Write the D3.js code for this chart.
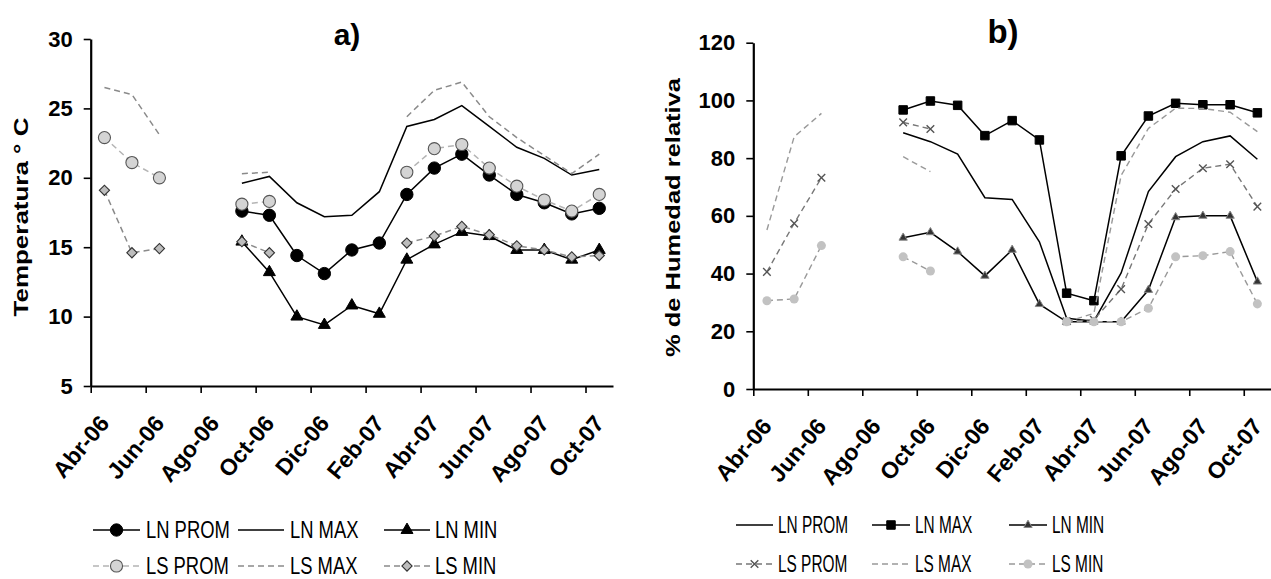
<!DOCTYPE html>
<html><head><meta charset="utf-8">
<script src="https://cdn.jsdelivr.net/npm/d3@7"></script>
<style>
body{margin:0;background:#fff}
svg{display:block}
text{font-family:"Liberation Sans",Arial,sans-serif}
</style>
</head><body>
<svg id="c" width="1271" height="579"></svg>
<script>
// ---------- DATA ----------
const months = ["Abr-06","May-06","Jun-06","Jul-06","Ago-06","Sep-06","Oct-06","Nov-06","Dic-06","Ene-07","Feb-07","Mar-07","Abr-07","May-07","Jun-07","Jul-07","Ago-07","Sep-07","Oct-07"];
const xTickLabels = ["Abr-06","Jun-06","Ago-06","Oct-06","Dic-06","Feb-07","Abr-07","Jun-07","Ago-07","Oct-07"];
const tempTicks = [5,10,15,20,25,30];
const humTicks = [0,20,40,60,80,100,120];
const seriesNames = ["LN PROM","LN MAX","LN MIN","LS PROM","LS MAX","LS MIN"];

// a) Temperature (°C)
const lnPromT = [null,null,null,null,null,17.6,17.3,14.4,13.1,14.8,15.3,18.8,20.7,21.7,20.2,18.8,18.2,17.4,17.8];
const lnMaxT  = [null,null,null,null,null,19.6,20.1,18.2,17.2,17.3,19.0,23.7,24.2,25.2,23.7,22.2,21.4,20.2,20.6];
const lnMinT  = [null,null,null,null,null,15.4,13.2,10.0,9.4,10.8,10.2,14.1,15.2,16.1,15.8,14.8,14.8,14.1,14.8];
const lsPromT = [22.9,21.1,20.0,null,null,18.1,18.3,null,null,null,null,20.4,22.1,22.4,20.7,19.4,18.4,17.6,18.8];
const lsMaxT  = [26.5,26.0,23.1,null,null,20.3,20.4,null,null,null,null,24.4,26.3,26.9,24.4,22.9,21.6,20.3,21.7];
const lsMinT  = [19.1,14.6,14.9,null,null,15.4,14.6,null,null,null,null,15.3,15.8,16.5,15.9,15.1,14.8,14.3,14.4];

// b) Relative humidity (%)
const lnPromH = [null,null,null,null,null,88.8,85.7,81.4,66.3,65.7,51.0,24.5,23.5,40.2,68.4,80.5,85.7,87.7,79.6];
const lnMaxH  = [null,null,null,null,null,96.7,99.8,98.3,87.8,93.0,86.3,33.2,30.6,80.8,94.6,99.0,98.5,98.5,95.7];
const lnMinH  = [null,null,null,null,null,52.4,54.3,47.6,39.2,48.2,29.4,23.3,23.3,23.3,34.3,59.5,60.0,60.0,37.2];
const lsPromH = [40.6,57.4,73.2,null,null,92.4,90.1,null,null,null,null,23.5,24.0,34.6,57.2,69.3,76.5,77.9,63.2];
const lsMaxH  = [55.1,87.4,95.5,null,null,80.5,75.3,null,null,null,null,23.3,26.2,74.0,90.3,97.3,97.2,95.9,89.2];
const lsMinH  = [30.6,31.2,49.7,null,null,45.8,40.9,null,null,null,null,23.3,23.3,23.3,28.0,45.8,46.2,47.6,29.5];

// ---------- DRAW ----------
const svg = d3.select("#c");
const FONT = '"Liberation Sans",Arial,sans-serif';

function markerPath(m) {
  if (!m) return null;
  if (m.type === "x") {
    const s = m.r;
    return `M${-s},${-s}L${s},${s}M${-s},${s}L${s},${-s}`;
  }
  const map = {circle:d3.symbolCircle, square:d3.symbolSquare, triangle:d3.symbolTriangle, diamond:d3.symbolSquare};
  return d3.symbol().type(map[m.type]).size(m.size)();
}
function drawMarker(g, cx, cy, m) {
  if (!m) return;
  g.append("path").attr("d", markerPath(m))
    .attr("transform", `translate(${cx},${cy})` + (m.type === "diamond" ? " rotate(45)" : ""))
    .attr("fill", m.type === "x" ? "none" : m.fill)
    .attr("stroke", m.stroke || "none")
    .attr("stroke-width", m.sw || 1);
}

function chart(o) {
  const x = d3.scaleBand().domain(months).range([o.x0, o.x1]).padding(0);
  const xl = d3.scaleLinear().domain([0, months.length]).range([o.x0, o.x1]);
  const bw = x.bandwidth();
  const y = d3.scaleLinear().domain(o.yDomain).range([o.yB, o.yT]);
  const g = svg.append("g");

  // Y axis
  const ya = g.append("g").attr("transform", `translate(${o.x0},0)`)
    .call(d3.axisLeft(y).tickValues(o.yTicks).tickSize(7).tickPadding(11).tickSizeOuter(0));
  ya.attr("font-family", FONT);
  ya.select(".domain").attr("stroke", "#000").attr("stroke-width", 2.2);
  ya.selectAll(".tick line").attr("stroke", "#000").attr("stroke-width", 1.6);
  ya.selectAll(".tick text").attr("font-size", 22).attr("font-weight", "bold").attr("fill", "#000");

  // X axis (ticks at every second month boundary)
  const xa = g.append("g").attr("transform", `translate(0,${o.yB})`)
    .call(d3.axisBottom(xl).tickValues(d3.range(0, months.length, 2)).tickSize(7).tickSizeOuter(0).tickFormat(""));
  xa.select(".domain").attr("stroke", "#000").attr("stroke-width", 2.2);
  xa.selectAll(".tick line").attr("stroke", "#000").attr("stroke-width", 1.6);

  // X tick labels (rotated)
  g.append("g").selectAll("text").data(xTickLabels).join("text")
    .attr("transform", d => `translate(${x(d) + bw / 2 + o.lblDx},${o.lblY}) rotate(-50)`)
    .attr("text-anchor", "end")
    .attr("font-size", 23).attr("font-weight", "bold").attr("fill", "#000")
    .text(d => d);

  // Y title
  g.append("text")
    .attr("transform", `translate(${o.ytX},${o.ytY}) rotate(-90)`)
    .attr("text-anchor", "middle")
    .attr("font-size", o.ytSize).attr("font-weight", "bold").attr("fill", "#000")
    .attr("textLength", o.ytLen).attr("lengthAdjust", "spacingAndGlyphs")
    .text(o.yTitle);

  // Panel title
  g.append("text").attr("x", o.titleX).attr("y", o.titleY)
    .attr("text-anchor", "middle").attr("font-size", o.titleSize).attr("font-weight", "bold")
    .text(o.title);

  // Series
  const line = d3.line().defined(d => d.v != null).x(d => x(d.m) + bw / 2).y(d => y(d.v));
  o.series.forEach(s => {
    const pts = s.values.map((v, i) => ({m: months[i], v}));
    g.append("path").attr("d", line(pts)).attr("fill", "none")
      .attr("stroke", s.stroke).attr("stroke-width", s.width)
      .attr("stroke-dasharray", s.dash || null);
    pts.filter(p => p.v != null).forEach(p => drawMarker(g, x(p.m) + bw / 2, y(p.v), s.marker));
  });

  // Legend
  const lg = g.append("g");
  o.series.forEach((s, i) => {
    const col = i % 3, row = Math.floor(i / 3);
    const L = o.legend;
    const lx0 = L.cols[col][0], lx1 = L.cols[col][1], tx = L.cols[col][2];
    const by = L.rows[row];
    const cy = by - L.capMid;
    lg.append("line").attr("x1", lx0).attr("x2", lx1).attr("y1", cy).attr("y2", cy)
      .attr("stroke", s.stroke).attr("stroke-width", s.width).attr("stroke-dasharray", s.dash || null);
    drawMarker(lg, (lx0 + lx1) / 2, cy, s.marker);
    lg.append("text").attr("transform", `translate(${tx},${by}) scale(${L.sx},1)`)
      .attr("font-size", L.size).attr("fill", "#000").text(seriesNames[i]);
  });
}

// a) temperature
chart({
  x0: 90.7, x1: 613, yB: 386, yT: 39, yDomain: [5, 30], yTicks: tempTicks,
  lblDx: 6, lblY: 424,
  yTitle: "Temperatura ° C", ytX: 28, ytY: 217, ytSize: 20, ytLen: 199,
  title: "a)", titleX: 347, titleY: 45, titleSize: 30,
  series: [
    {values: lnPromT, stroke: "#000", width: 1.5, marker: {type: "circle", size: 120, fill: "#000", stroke: "#000", sw: 1}},
    {values: lnMaxT,  stroke: "#000", width: 1.5},
    {values: lnMinT,  stroke: "#000", width: 1.5, marker: {type: "triangle", size: 62, fill: "#000", stroke: "#000", sw: 1}},
    {values: lsPromT, stroke: "#b4b4b4", width: 1.5, dash: "6,4", marker: {type: "circle", size: 115, fill: "#d4d4d4", stroke: "#555", sw: 1.1}},
    {values: lsMaxT,  stroke: "#8a8a8a", width: 1.5, dash: "6,4"},
    {values: lsMinT,  stroke: "#8a8a8a", width: 1.5, dash: "6,4", marker: {type: "diamond", size: 52, fill: "#bdbdbd", stroke: "#333", sw: 1.1}}
  ],
  legend: {cols: [[93, 140, 146], [238, 284, 290], [384, 430, 435]], rows: [538, 574], capMid: 8, size: 23, sx: 0.8}
});

// b) humidity
chart({
  x0: 753.3, x1: 1271, yB: 389, yT: 42.7, yDomain: [0, 120], yTicks: humTicks,
  lblDx: 6, lblY: 427,
  yTitle: "% de Humedad relativa", ytX: 680, ytY: 217.5, ytSize: 21, ytLen: 279,
  title: "b)", titleX: 1003, titleY: 43, titleSize: 33,
  series: [
    {values: lnPromH, stroke: "#000", width: 1.5},
    {values: lnMaxH,  stroke: "#000", width: 1.5, marker: {type: "square", size: 72, fill: "#000", stroke: "#000", sw: 1}},
    {values: lnMinH,  stroke: "#000", width: 1.5, marker: {type: "triangle", size: 30, fill: "#333", stroke: "#888", sw: 1}},
    {values: lsPromH, stroke: "#777", width: 1.4, dash: "6,4", marker: {type: "x", r: 3.8, stroke: "#555", sw: 1.4}},
    {values: lsMaxH,  stroke: "#999", width: 1.4, dash: "6,4"},
    {values: lsMinH,  stroke: "#999", width: 1.4, dash: "6,4", marker: {type: "circle", size: 64, fill: "#c2c2c2", stroke: "none"}}
  ],
  legend: {cols: [[736, 773, 778], [872, 910, 915], [1009, 1047, 1052]], rows: [533, 572], capMid: 8, size: 23, sx: 0.67}
});
</script>
</body></html>
